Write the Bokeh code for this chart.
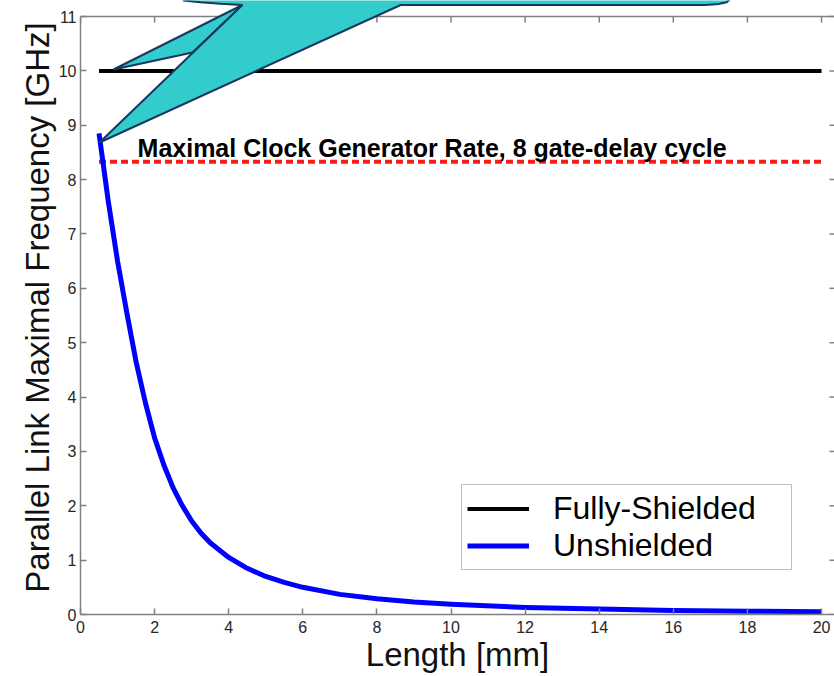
from bokeh.plotting import figure
from bokeh.models import Legend, LegendItem, Range1d, FixedTicker
from bokeh.embed import file_html
from bokeh.resources import INLINE
from bokeh.core.properties import value

# ---- data ----
length_mm = [0.5, 0.75, 1.0, 1.25, 1.5, 1.75, 2.0, 2.25, 2.5, 2.75, 3.0, 3.25, 3.5,
             4.0, 4.5, 5.0, 5.5, 6.0, 7.0, 8.0, 9.0, 10.0, 12.0, 14.0, 16.0, 18.0, 20.0]
unshielded_ghz = [8.85, 7.6, 6.5, 5.55, 4.65, 3.9, 3.25, 2.75, 2.33, 2.0, 1.72, 1.5,
                  1.32, 1.05, 0.85, 0.7, 0.59, 0.5, 0.37, 0.29, 0.23, 0.19, 0.13,
                  0.1, 0.075, 0.06, 0.05]
shielded_x = [0.5, 20.0]
shielded_ghz = [10.0, 10.0]
clock_x = [0.5, 20.0]
clock_ghz = [8.33, 8.33]
x_ticks = [0, 2, 4, 6, 8, 10, 12, 14, 16, 18, 20]
y_ticks = [0, 1, 2, 3, 4, 5, 6, 7, 8, 9, 10, 11]
clock_label = "Maximal Clock Generator Rate, 8 gate-delay cycle"

# callout (speech bubble + pointer) outline, in data units
callout_main_x = [2.78, 2.78, 3.24, 3.78, 4.37, 0.513, 8.64, 16.87, 17.22, 17.44, 17.57]
callout_main_y = [11.34, 11.295, 11.262, 11.234, 11.212, 8.683, 11.212, 11.212, 11.23, 11.262, 11.34]
callout_arm_x = [4.37, 0.891, 3.023]
callout_arm_y = [11.212, 10.026, 10.339]

X_END = 20.35
Y_END = 11.295
PX_X = 37.05   # pixels per mm (for tick lengths only)
PX_Y = 54.36   # pixels per GHz

p = figure(width=834, height=676, output_backend="svg", toolbar_location=None,
           x_range=Range1d(0, X_END), y_range=Range1d(0, Y_END),
           min_border_left=80, min_border_right=0, min_border_top=0,
           min_border_bottom=62)
p.outline_line_color = None
p.xgrid.visible = False
p.ygrid.visible = False
p.background_fill_color = "white"
p.border_fill_color = "white"

axis_col = "#808080"
for ax in (p.xaxis[0], p.yaxis[0]):
    ax.axis_line_color = axis_col
    ax.axis_line_width = 1.5
    ax.major_tick_line_color = axis_col
    ax.major_tick_line_width = 1.5
    ax.major_tick_in = 6
    ax.major_tick_out = 0
    ax.minor_tick_line_color = None
    ax.major_label_text_font = "Liberation Sans"
    ax.major_label_text_font_size = "16px"
    ax.major_label_text_color = "#262626"
    ax.axis_label_text_font = "Liberation Sans"
    ax.axis_label_text_font_style = "normal"
    ax.axis_label_text_font_size = "33px"
    ax.axis_label_text_color = "#111111"

p.xaxis.ticker = FixedTicker(ticks=x_ticks)
p.yaxis.ticker = FixedTicker(ticks=y_ticks)
p.yaxis.bounds = (0, 11)
p.xaxis.axis_label = "Length [mm]"
p.yaxis.axis_label = "Parallel Link Maximal Frequency [GHz]"
p.xaxis.major_label_standoff = 6
p.xaxis.axis_label_standoff = 0
p.yaxis.major_label_standoff = 4
p.yaxis.axis_label_standoff = 0

# top box edge with inward ticks (MATLAB style) and right-edge inward ticks
p.line(x=[0, X_END], y=[11, 11], line_color=axis_col, line_width=1.5)
p.segment(x0=x_ticks, y0=[11] * len(x_ticks), x1=x_ticks,
          y1=[11 - 6 / PX_Y] * len(x_ticks), line_color=axis_col, line_width=1.5)
p.segment(x0=[X_END] * len(y_ticks), y0=y_ticks,
          x1=[X_END - 5 / PX_X] * len(y_ticks), y1=y_ticks,
          line_color=axis_col, line_width=1.5)

r_black = p.line(shielded_x, shielded_ghz, line_color="black", line_width=4)
p.line(clock_x, clock_ghz, line_color="#ff1a1a", line_width=4, line_dash="7 4")
r_blue = p.line(length_mm, unshielded_ghz, line_color="#0000ff", line_width=5,
                line_join="round")

p.text(x=[1.54], y=[8.58], text=[clock_label], text_font=value("Liberation Sans"),
       text_font_style="bold", text_font_size="25px", text_color="black",
       text_baseline="alphabetic", text_align="left")

# callout shapes
p.patch(callout_arm_x, callout_arm_y, fill_color="#33cccc", line_color="#17375e",
        line_width=2)
p.patch(callout_main_x, callout_main_y, fill_color="#33cccc", line_color="#17375e",
        line_width=2)

legend = Legend(items=[LegendItem(label="Fully-Shielded", renderers=[r_black]),
                       LegendItem(label="Unshielded", renderers=[r_blue])],
                location=(381, 44))
legend.label_text_font = "Liberation Sans"
legend.label_text_font_size = "32px"
legend.label_text_color = "black"
legend.padding = 5
legend.spacing = 0
legend.glyph_height = 37
legend.glyph_width = 62
legend.label_standoff = 24
legend.label_width = 233
legend.label_height = 37
legend.border_line_color = "#808080"
legend.border_line_width = 1.5
legend.background_fill_color = "white"
legend.background_fill_alpha = 1.0
p.add_layout(legend)

open("out.html", "w").write(file_html(p, INLINE))
